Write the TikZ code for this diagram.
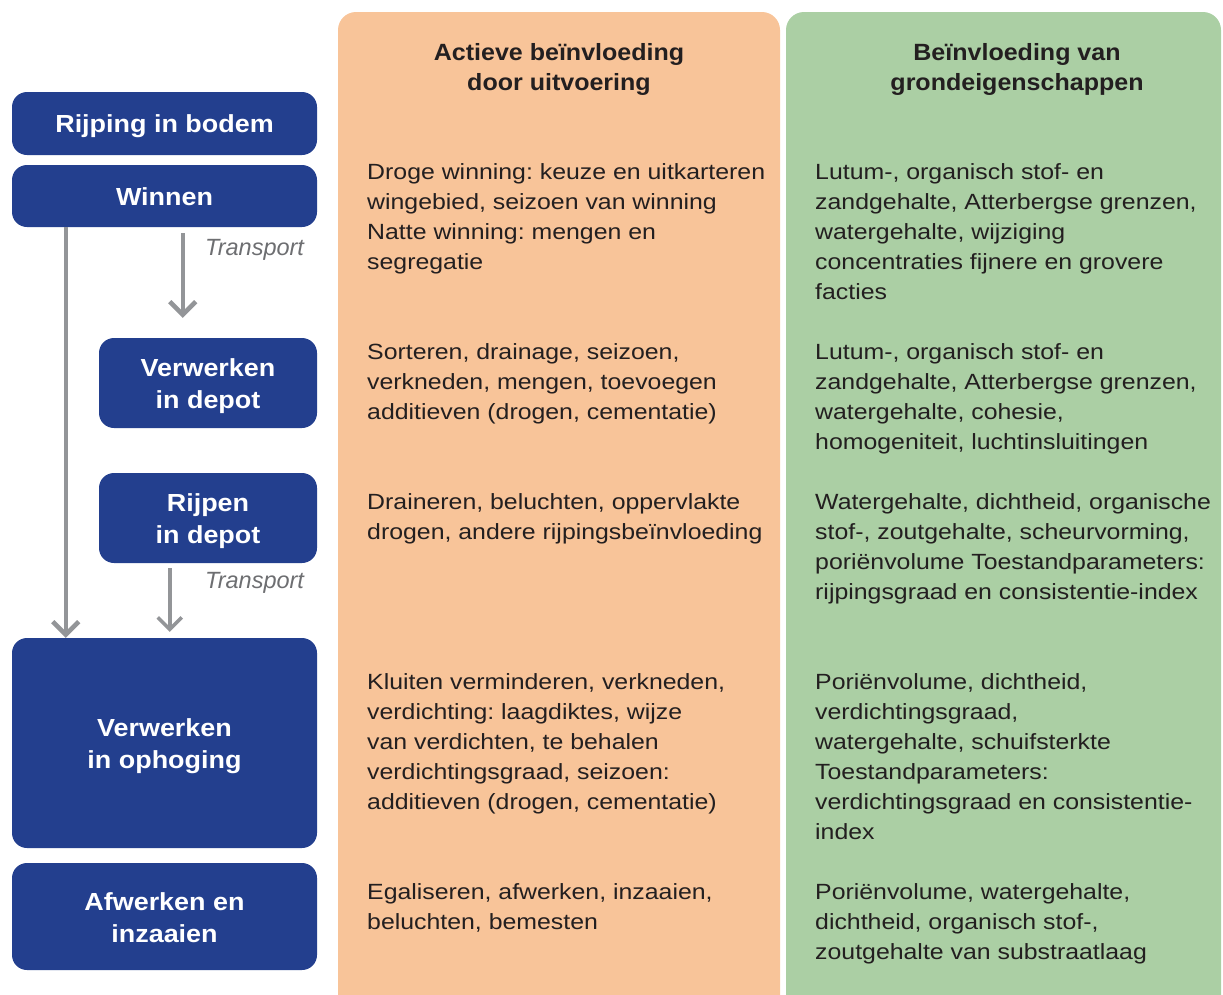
\documentclass[tikz,border=0pt]{standalone}
\usepackage{fontspec}
\setmainfont{Liberation Sans}
\newfontfamily\bodyfont[FakeStretch=1.13]{Liberation Sans}
\newfontfamily\boxfont[FakeStretch=1.09]{Liberation Sans}
\newfontfamily\headfont[FakeStretch=1.065]{Liberation Sans}
\usetikzlibrary{arrows.meta}
\definecolor{colorange}{HTML}{F8C499}
\definecolor{colgreen}{HTML}{ABCFA4}
\definecolor{boxblue}{HTML}{233F8E}
\definecolor{arrgrey}{HTML}{939598}
\definecolor{txtdark}{HTML}{231F20}
\definecolor{trgrey}{HTML}{6D6E71}
\frenchspacing
\newcommand{\mylines}[1]{\begin{tabular}[t]{@{}l@{}}#1\end{tabular}}
\newcommand{\mycentered}[1]{\begin{tabular}[t]{@{}c@{}}#1\end{tabular}}
\begin{document}
\begin{tikzpicture}[x=1pt,y=-1pt,
  bluebox/.style={fill=boxblue, rounded corners=15pt, inner sep=0pt, text=white,
    font=\boxfont\bfseries\fontsize{24.7}{32}\selectfont},
  onebox/.style={bluebox, text height=18pt, text depth=0pt},
  twobox/.style={bluebox, text height=19pt, text depth=32pt},
  bodytxt/.style={anchor=base west, inner sep=0pt, text=txtdark,
    font=\bodyfont\fontsize{22}{30}\selectfont},
  headtxt/.style={anchor=base, inner sep=0pt, text=txtdark,
    font=\headfont\bfseries\fontsize{23.5}{30}\selectfont},
  translbl/.style={anchor=base west, inner sep=0pt, text=trgrey,
    font=\itshape\fontsize{23.5}{28}\selectfont},
  grarrow/.style={draw=arrgrey, line width=4.5pt,
    -{Straight Barb[length=13pt,width=26pt]}},
  grarrowthin/.style={draw=arrgrey, line width=3.5pt,
    -{Straight Barb[length=12pt,width=24pt]}}
]
\useasboundingbox (0,0) rectangle (1223,994);
% column backgrounds
\fill[colorange, rounded corners=18pt] (338,1030) -- (338,12) -- (780,12) -- (780,1030) -- cycle;
\fill[colgreen, rounded corners=18pt] (786,1030) -- (786,12) -- (1221,12) -- (1221,1030) -- cycle;
% headers
\node[headtxt] (hA) at (559,60) {\mycentered{Actieve beïnvloeding\\door uitvoering}};
\node[headtxt] (hB) at (1017,60) {\mycentered{Beïnvloeding van\\grondeigenschappen}};
% process boxes
\node[onebox, minimum width=305pt, minimum height=63pt] (rijping) at (164.5,123.5) {Rijping in bodem};
\node[onebox, minimum width=305pt, minimum height=62pt] (winnen) at (164.5,196) {Winnen};
\node[twobox, minimum width=218pt, minimum height=90pt] (vdepot) at (208,383) {\mycentered{Verwerken\\in depot}};
\node[twobox, minimum width=218pt, minimum height=90pt] (rdepot) at (208,518) {\mycentered{Rijpen\\in depot}};
\node[twobox, minimum width=305pt, minimum height=210pt] (ophoging) at (164.5,743) {\mycentered{Verwerken\\in ophoging}};
\node[twobox, minimum width=305pt, minimum height=107pt] (afwerken) at (164.5,916.5) {\mycentered{Afwerken en\\inzaaien}};
% arrows
\draw[grarrow] ([xshift=54pt]winnen.south west) -- ([xshift=54pt]ophoging.north west);
\draw[grarrow] ([xshift=171pt,yshift=-6pt]winnen.south west) -- ([xshift=84pt,yshift=20pt]vdepot.north west);
\draw[grarrowthin] ([xshift=71pt,yshift=-5pt]rdepot.south west) -- ([xshift=158pt,yshift=6pt]ophoging.north west);
\node[translbl] (tr1) at (205,255) {Transport};
\node[translbl] (tr2) at (205,588) {Transport};
% orange column texts
\node[bodytxt] (a1) at (367,179.5) {\mylines{Droge winning: keuze en uitkarteren\\wingebied, seizoen van winning\\Natte winning: mengen en\\segregatie}};
\node[bodytxt] (a2) at (367,359.5) {\mylines{Sorteren, drainage, seizoen,\\verkneden, mengen, toevoegen\\additieven (drogen, cementatie)}};
\node[bodytxt] (a3) at (367,509.5) {\mylines{Draineren, beluchten, oppervlakte\\drogen, andere rijpingsbeïnvloeding}};
\node[bodytxt] (a4) at (367,689.5) {\mylines{Kluiten verminderen, verkneden,\\verdichting: laagdiktes, wijze\\van verdichten, te behalen\\verdichtingsgraad, seizoen:\\additieven (drogen, cementatie)}};
\node[bodytxt] (a5) at (367,899.5) {\mylines{Egaliseren, afwerken, inzaaien,\\beluchten, bemesten}};
% green column texts
\node[bodytxt] (b1) at (815,179.5) {\mylines{Lutum-, organisch stof- en\\zandgehalte, Atterbergse grenzen,\\watergehalte, wijziging\\concentraties fijnere en grovere\\facties}};
\node[bodytxt] (b2) at (815,359.5) {\mylines{Lutum-, organisch stof- en\\zandgehalte, Atterbergse grenzen,\\watergehalte, cohesie,\\homogeniteit, luchtinsluitingen}};
\node[bodytxt] (b3) at (815,509.5) {\mylines{Watergehalte, dichtheid, organische\\stof-, zoutgehalte, scheurvorming,\\poriënvolume Toestandparameters:\\rijpingsgraad en consistentie-index}};
\node[bodytxt] (b4) at (815,689.5) {\mylines{Poriënvolume, dichtheid,\\verdichtingsgraad,\\watergehalte, schuifsterkte\\Toestandparameters:\\verdichtingsgraad en consistentie-\\index}};
\node[bodytxt] (b5) at (815,899.5) {\mylines{Poriënvolume, watergehalte,\\dichtheid, organisch stof-,\\zoutgehalte van substraatlaag}};
\end{tikzpicture}
\end{document}
